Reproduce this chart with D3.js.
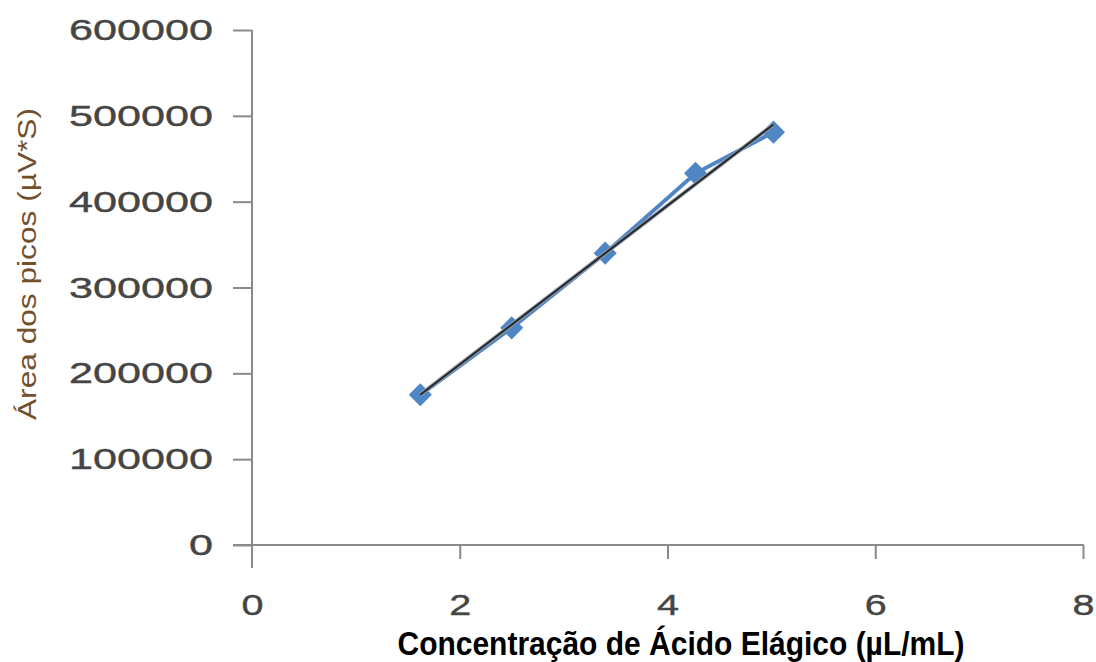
<!DOCTYPE html>
<html>
<head>
<meta charset="utf-8">
<script src="https://cdn.jsdelivr.net/npm/d3@7"></script>
<style>
  html, body { margin: 0; padding: 0; background: #fff; }
  svg { display: block; }
</style>
</head>
<body>
<div id="chart"></div>
<script>
// Calibration data: ellagic acid concentration vs. peak area
const concentration = [1.62, 2.50, 3.40, 4.27, 5.02];
const peakArea = [175000, 253000, 340000, 433000, 481000];
const xTicks = [0, 2, 4, 6, 8];
const yTicks = [0, 100000, 200000, 300000, 400000, 500000, 600000];
const xTitle = "Concentração de Ácido Elágico (µL/mL)";
const yTitle = "Área dos picos (µV*S)";

const W = 1096, H = 662;
const svg = d3.select("#chart").append("svg").attr("width", W).attr("height", H);

const x = d3.scaleLinear().domain([0, 8]).range([252, 1083]);
const y = d3.scaleLinear().domain([0, 600000]).range([545, 30]);

const axisColor = "#8a8a8a";
const tickTextColor = "#454545";

// Y axis (ticks outside, left)
const yAxis = svg.append("g")
  .attr("transform", `translate(${x(0)},0)`)
  .call(d3.axisLeft(y).tickValues(yTicks).tickSize(19).tickPadding(20).tickFormat(d3.format("d")));
yAxis.select(".domain").remove();
yAxis.selectAll(".tick line").attr("stroke", axisColor).attr("stroke-width", 2);
yAxis.selectAll(".tick text")
  .attr("fill", tickTextColor)
  .attr("stroke", tickTextColor)
  .attr("stroke-width", 0.4)
  .attr("font-family", "Liberation Sans, Arial, sans-serif")
  .attr("font-size", 30)
  .attr("textLength", d => String(d).length * 24)
  .attr("lengthAdjust", "spacingAndGlyphs");
// vertical axis line, running a little below the horizontal axis
svg.append("line")
  .attr("x1", x(0)).attr("x2", x(0))
  .attr("y1", y(600000)).attr("y2", y(0) + 23)
  .attr("stroke", axisColor).attr("stroke-width", 2);

// X axis (ticks downward)
const xAxis = svg.append("g")
  .attr("transform", `translate(0,${y(0)})`)
  .call(d3.axisBottom(x).tickValues(xTicks).tickSize(14).tickPadding(35).tickFormat(d3.format("d")));
xAxis.select(".domain").remove();
xAxis.selectAll(".tick line").attr("stroke", axisColor).attr("stroke-width", 2)
  .filter(d => d === 0).remove();
xAxis.selectAll(".tick text")
  .attr("fill", tickTextColor)
  .attr("stroke", tickTextColor)
  .attr("stroke-width", 0.4)
  .attr("font-family", "Liberation Sans, Arial, sans-serif")
  .attr("font-size", 30)
  .attr("textLength", 22)
  .attr("lengthAdjust", "spacingAndGlyphs");
svg.append("line")
  .attr("x1", x(0) - 19).attr("x2", x(8) + 1)
  .attr("y1", y(0)).attr("y2", y(0))
  .attr("stroke", axisColor).attr("stroke-width", 2);

// Data series line
const pts = concentration.map((c, i) => [c, peakArea[i]]);
const line = d3.line().x(d => x(d[0])).y(d => y(d[1]));
svg.append("path")
  .datum(pts)
  .attr("d", line)
  .attr("fill", "none")
  .attr("stroke", "#4f86c6")
  .attr("stroke-width", 4);

// Diamond markers
svg.append("g").selectAll("path")
  .data(pts)
  .join("path")
  .attr("transform", d => `translate(${x(d[0])},${y(d[1])})`)
  .attr("d", d3.symbol().type(d3.symbolDiamond2).size(340))
  .attr("fill", "#4f86c6");

// Linear trend line (least squares)
const n = pts.length;
const mx = d3.mean(concentration), my = d3.mean(peakArea);
const slope = d3.sum(pts, d => (d[0] - mx) * (d[1] - my)) / d3.sum(pts, d => (d[0] - mx) ** 2);
const intercept = my - slope * mx;
const trend = [concentration[0], concentration[n - 1]].map(c => [c, intercept + slope * c]);
svg.append("path")
  .datum(trend)
  .attr("d", line)
  .attr("fill", "none")
  .attr("stroke", "#9a9a9a")
  .attr("stroke-width", 4);
svg.append("path")
  .datum(trend)
  .attr("d", line)
  .attr("fill", "none")
  .attr("stroke", "#1c2836")
  .attr("stroke-width", 2);

// Axis titles
svg.append("text")
  .attr("x", 681).attr("y", 655)
  .attr("text-anchor", "middle")
  .attr("font-family", "Liberation Sans, Arial, sans-serif")
  .attr("font-weight", "bold")
  .attr("font-size", 33)
  .attr("fill", "#000")
  .attr("textLength", 567)
  .attr("lengthAdjust", "spacingAndGlyphs")
  .text(xTitle);

svg.append("text")
  .attr("transform", "translate(36,264) rotate(-90)")
  .attr("text-anchor", "middle")
  .attr("font-family", "Liberation Sans, Arial, sans-serif")
  .attr("font-size", 25)
  .attr("fill", "#73502c")
  .attr("textLength", 312)
  .attr("lengthAdjust", "spacingAndGlyphs")
  .text(yTitle);
</script>
</body>
</html>
